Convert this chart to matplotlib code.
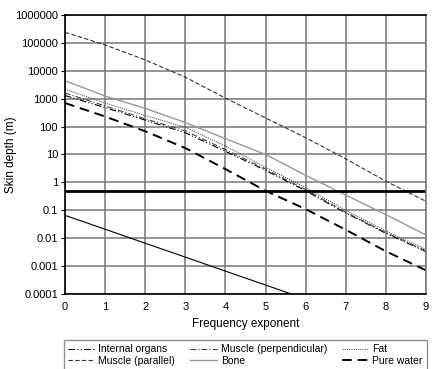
import numpy as np
import matplotlib
matplotlib.use("Agg")
import matplotlib.pyplot as plt

plt.rcParams["font.family"] = ["Liberation Sans", "DejaVu Sans"]

# --- Data ---
freq_exp = [0, 1, 2, 3, 4, 5, 6, 7, 8, 9]
internal_organs = [1300, 480, 170, 60, 13, 2.7, 0.5, 0.08, 0.015, 0.0033]
muscle_perp = [1600, 550, 190, 70, 15, 3.0, 0.55, 0.085, 0.016, 0.0035]
fat = [2200, 700, 250, 95, 20, 3.5, 0.65, 0.1, 0.018, 0.004]
muscle_par = [240000, 85000, 24500, 5900, 1050, 205, 40, 7, 1.1, 0.21]
bone = [4400, 1250, 450, 140, 37, 10, 1.8, 0.35, 0.07, 0.013]
pure_water = [700, 230, 68, 17, 3.0, 0.5, 0.11, 0.02, 0.0034, 0.0007]

# unlabelled solid line at the bottom
seawater_exp = [0, 1, 2, 3, 4, 5, 6]
seawater = [0.066, 0.021, 0.0066, 0.0021, 0.00066, 0.00021, 0.000066]

ref_level = 0.5

ytick_vals = [1e-4, 1e-3, 1e-2, 1e-1, 1, 10, 100, 1000, 10000, 100000, 1000000]
ytick_labels = ["0.0001", "0.001", "0.01", "0.1", "1", "10", "100", "1000",
                "10000", "100000", "1000000"]

# --- Figure ---
fig = plt.figure(figsize=(4.37, 3.69), dpi=100)
ax = fig.add_axes([65 / 437, 1 - 294 / 369, 361 / 437, 279 / 369])

ax.set_yscale("log")
ax.set_xlim(0, 9)
ax.set_ylim(1e-4, 1e6)

ax.plot(freq_exp, internal_organs, color="black", lw=0.8,
        linestyle=(0, (6, 2, 1, 2, 1, 2)), label="Internal organs")
ax.plot(freq_exp, muscle_par, color="#333333", lw=0.8,
        linestyle=(0, (4, 2)), label="Muscle (parallel)")
ax.plot(freq_exp, muscle_perp, color="#444444", lw=0.8,
        linestyle=(0, (5, 2, 1, 2)), label="Muscle (perpendicular)")
ax.plot(freq_exp, bone, color="#999999", lw=1.0, linestyle="-", label="Bone")
ax.plot(freq_exp, fat, color="#555555", lw=0.8,
        linestyle=(0, (1, 1)), label="Fat")
ax.plot(freq_exp, pure_water, color="black", lw=1.4,
        linestyle=(0, (5, 3)), label="Pure water")

ax.plot(seawater_exp, seawater, color="black", lw=0.8)
ax.axhline(ref_level, color="black", lw=2)

# grid and frame
ax.set_xticks(freq_exp)
ax.set_yticks(ytick_vals)
ax.set_yticklabels(ytick_labels)
ax.minorticks_off()
ax.grid(True, which="major", color="#777777", lw=1.1)
ax.set_axisbelow(True)
ax.tick_params(axis="both", labelsize=8, color="black")
ax.tick_params(axis="x", length=0, pad=6)
ax.tick_params(axis="y", length=3, width=0.8, pad=2)
for side in ["top", "bottom", "left"]:
    ax.spines[side].set_color("black")
    ax.spines[side].set_linewidth(1.2)
ax.spines["right"].set_color("#777777")
ax.spines["right"].set_linewidth(1.1)

ax.set_xlabel("Frequency exponent", fontsize=8.5, labelpad=4)
ax.set_ylabel("Skin depth (m)", fontsize=8.5)
ax.yaxis.set_label_coords(-48 / 361, 0.5)

fig.legend(loc="upper left", ncol=3, mode="expand",
           bbox_to_anchor=(64 / 437, 0, 363 / 437, 1 - 340 / 369),
           borderaxespad=0, fontsize=7.5, frameon=True, fancybox=False,
           edgecolor="#777777", handlelength=2.5, handletextpad=0.4,
           labelspacing=0.15, borderpad=0.4)

fig.savefig("out.png", dpi=100)
